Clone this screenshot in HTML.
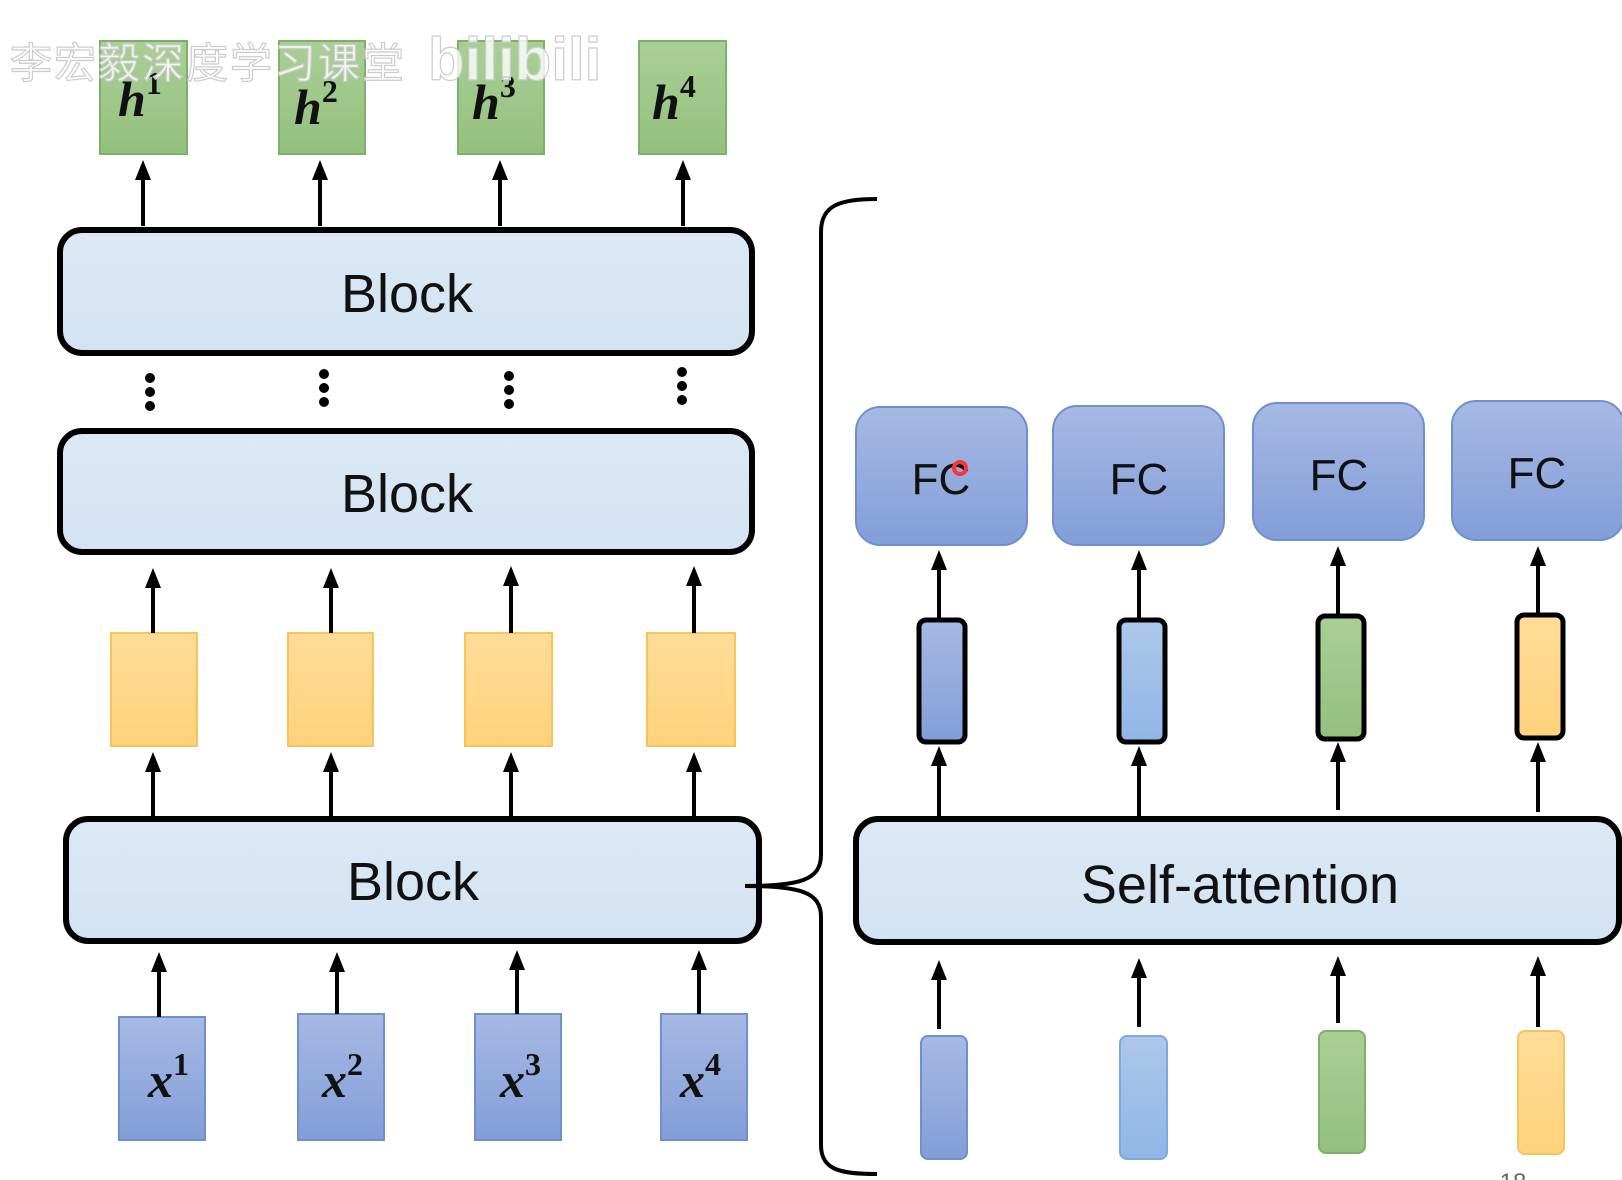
<!DOCTYPE html>
<html><head><meta charset="utf-8"><style>
html,body{margin:0;padding:0;background:#fff;}
svg{display:block;}
</style></head><body>
<svg width="1622" height="1180" viewBox="0 0 1622 1180" xmlns="http://www.w3.org/2000/svg">
<defs>
<linearGradient id="blk" x1="0" y1="0" x2="0" y2="1"><stop offset="0" stop-color="#dce8f5"/><stop offset="1" stop-color="#d3e3f4"/></linearGradient>
<linearGradient id="grn" x1="0" y1="0" x2="0" y2="1"><stop offset="0" stop-color="#aacf96"/><stop offset="1" stop-color="#94c07e"/></linearGradient>
<linearGradient id="yel" x1="0" y1="0" x2="0" y2="1"><stop offset="0" stop-color="#ffdc98"/><stop offset="1" stop-color="#ffd27c"/></linearGradient>
<linearGradient id="blu" x1="0" y1="0" x2="0" y2="1"><stop offset="0" stop-color="#a7b9e4"/><stop offset="1" stop-color="#829ed8"/></linearGradient>
<linearGradient id="lbl" x1="0" y1="0" x2="0" y2="1"><stop offset="0" stop-color="#adc7ea"/><stop offset="1" stop-color="#90b6e6"/></linearGradient>
</defs>

<g font-family="'Liberation Serif',serif" font-weight="bold" font-style="italic" font-size="50" fill="#111">
<rect x="100" y="41" width="87" height="113" fill="url(#grn)" stroke="#7fb06a" stroke-width="2"/>
<rect x="279" y="41" width="86" height="113" fill="url(#grn)" stroke="#7fb06a" stroke-width="2"/>
<rect x="458" y="41" width="86" height="113" fill="url(#grn)" stroke="#7fb06a" stroke-width="2"/>
<rect x="639" y="41" width="87" height="113" fill="url(#grn)" stroke="#7fb06a" stroke-width="2"/>
<text x="118" y="116">h<tspan font-size="32" dy="-22" font-style="normal">1</tspan></text>
<text x="294" y="124">h<tspan font-size="32" dy="-22" font-style="normal">2</tspan></text>
<text x="472" y="119">h<tspan font-size="32" dy="-22" font-style="normal">3</tspan></text>
<text x="652" y="119">h<tspan font-size="32" dy="-22" font-style="normal">4</tspan></text>
</g>

<g fill="url(#yel)" stroke="#f7c45a" stroke-width="2">
<rect x="111" y="633" width="86" height="113"/>
<rect x="288" y="633" width="85" height="113"/>
<rect x="465" y="633" width="87" height="113"/>
<rect x="647" y="633" width="88" height="113"/>
</g>

<g fill="url(#blu)" stroke="#6f8fcf" stroke-width="2">
<rect x="119" y="1017" width="86" height="123"/>
<rect x="298" y="1014" width="86" height="126"/>
<rect x="475" y="1014" width="86" height="126"/>
<rect x="661" y="1014" width="86" height="126"/>
</g>
<g font-family="'Liberation Serif',serif" font-weight="bold" font-style="italic" font-size="50" fill="#111">
<text x="148" y="1097">x<tspan font-size="32" dy="-22" font-style="normal">1</tspan></text>
<text x="322" y="1097">x<tspan font-size="32" dy="-22" font-style="normal">2</tspan></text>
<text x="500" y="1097">x<tspan font-size="32" dy="-22" font-style="normal">3</tspan></text>
<text x="680" y="1097">x<tspan font-size="32" dy="-22" font-style="normal">4</tspan></text>
</g>

<g fill="url(#blk)" stroke="#000" stroke-width="6">
<rect x="60" y="230" width="692" height="123" rx="22"/>
<rect x="60" y="431" width="692" height="121" rx="22"/>
<rect x="66" y="819" width="693" height="122" rx="22"/>
<rect x="856" y="819" width="763" height="123" rx="22"/>
</g>
<g font-family="'Liberation Sans','DejaVu Sans',sans-serif" font-size="54" fill="#111" text-anchor="middle">
<text x="407" y="312">Block</text>
<text x="407" y="512">Block</text>
<text x="413" y="900">Block</text>
<text x="1240" y="903">Self-attention</text>
</g>

<g fill="#000">
<circle cx="150" cy="378" r="5"/><circle cx="150" cy="392" r="5"/><circle cx="150" cy="406" r="5"/>
<circle cx="324" cy="374" r="5"/><circle cx="324" cy="388" r="5"/><circle cx="324" cy="402" r="5"/>
<circle cx="509" cy="376" r="5"/><circle cx="509" cy="390" r="5"/><circle cx="509" cy="404" r="5"/>
<circle cx="682" cy="372" r="5"/><circle cx="682" cy="386" r="5"/><circle cx="682" cy="400" r="5"/>
</g>

<g stroke="#000" stroke-width="4">
<line x1="143" y1="226" x2="143" y2="176"/>
<line x1="320" y1="226" x2="320" y2="176"/>
<line x1="500" y1="226" x2="500" y2="176"/>
<line x1="683" y1="226" x2="683" y2="176"/>
<line x1="153" y1="633" x2="153" y2="584"/>
<line x1="331" y1="633" x2="331" y2="584"/>
<line x1="511" y1="633" x2="511" y2="582"/>
<line x1="694" y1="633" x2="694" y2="582"/>
<line x1="153" y1="816" x2="153" y2="768"/>
<line x1="331" y1="816" x2="331" y2="768"/>
<line x1="511" y1="816" x2="511" y2="768"/>
<line x1="694" y1="816" x2="694" y2="768"/>
<line x1="159" y1="1017" x2="159" y2="968"/>
<line x1="337" y1="1014" x2="337" y2="968"/>
<line x1="517" y1="1014" x2="517" y2="966"/>
<line x1="699" y1="1014" x2="699" y2="966"/>
<line x1="939" y1="1029" x2="939" y2="976"/>
<line x1="1139" y1="1027" x2="1139" y2="974"/>
<line x1="1338" y1="1023" x2="1338" y2="972"/>
<line x1="1538" y1="1027" x2="1538" y2="972"/>
<line x1="939" y1="816" x2="939" y2="762"/>
<line x1="1139" y1="816" x2="1139" y2="762"/>
<line x1="1338" y1="810" x2="1338" y2="758"/>
<line x1="1538" y1="812" x2="1538" y2="758"/>
<line x1="939" y1="619" x2="939" y2="566"/>
<line x1="1139" y1="619" x2="1139" y2="566"/>
<line x1="1338" y1="615" x2="1338" y2="562"/>
<line x1="1538" y1="615" x2="1538" y2="562"/>
</g>
<g fill="#000">
<path d="M135,180 L143,160 L151,180Z"/>
<path d="M312,180 L320,160 L328,180Z"/>
<path d="M492,180 L500,160 L508,180Z"/>
<path d="M675,180 L683,160 L691,180Z"/>
<path d="M145,588 L153,568 L161,588Z"/>
<path d="M323,588 L331,568 L339,588Z"/>
<path d="M503,586 L511,566 L519,586Z"/>
<path d="M686,586 L694,566 L702,586Z"/>
<path d="M145,772 L153,752 L161,772Z"/>
<path d="M323,772 L331,752 L339,772Z"/>
<path d="M503,772 L511,752 L519,772Z"/>
<path d="M686,772 L694,752 L702,772Z"/>
<path d="M151,972 L159,952 L167,972Z"/>
<path d="M329,972 L337,952 L345,972Z"/>
<path d="M509,970 L517,950 L525,970Z"/>
<path d="M691,970 L699,950 L707,970Z"/>
<path d="M931,980 L939,960 L947,980Z"/>
<path d="M1131,978 L1139,958 L1147,978Z"/>
<path d="M1330,976 L1338,956 L1346,976Z"/>
<path d="M1530,976 L1538,956 L1546,976Z"/>
<path d="M931,766 L939,746 L947,766Z"/>
<path d="M1131,766 L1139,746 L1147,766Z"/>
<path d="M1330,762 L1338,742 L1346,762Z"/>
<path d="M1530,762 L1538,742 L1546,762Z"/>
<path d="M931,570 L939,550 L947,570Z"/>
<path d="M1131,570 L1139,550 L1147,570Z"/>
<path d="M1330,566 L1338,546 L1346,566Z"/>
<path d="M1530,566 L1538,546 L1546,566Z"/>
</g>

<g fill="url(#blu)" stroke="#6f8fcf" stroke-width="2">
<rect x="856" y="407" width="171" height="138" rx="24"/>
<rect x="1053" y="406" width="171" height="139" rx="24"/>
<rect x="1253" y="403" width="171" height="137" rx="24"/>
<rect x="1452" y="401" width="172" height="139" rx="24"/>
</g>
<g font-family="'Liberation Sans','DejaVu Sans',sans-serif" font-size="44" fill="#111" text-anchor="middle">
<text x="941" y="494">FC</text>
<text x="1139" y="494">FC</text>
<text x="1339" y="490">FC</text>
<text x="1537" y="488">FC</text>
</g>
<circle cx="960" cy="468" r="6" fill="none" stroke="#f33" stroke-width="4"/>

<g stroke="#000" stroke-width="5">
<rect x="919" y="620" width="46" height="122" rx="7" fill="url(#blu)"/>
<rect x="1119" y="620" width="46" height="122" rx="7" fill="url(#lbl)"/>
<rect x="1318" y="616" width="46" height="123" rx="7" fill="url(#grn)"/>
<rect x="1517" y="615" width="46" height="123" rx="7" fill="url(#yel)"/>
</g>
<g stroke-width="2">
<rect x="921" y="1036" width="46" height="123" rx="7" fill="url(#blu)" stroke="#6f8fcf"/>
<rect x="1120" y="1036" width="47" height="123" rx="7" fill="url(#lbl)" stroke="#7fa7dd"/>
<rect x="1319" y="1031" width="46" height="122" rx="7" fill="url(#grn)" stroke="#7fb06a"/>
<rect x="1518" y="1031" width="46" height="123" rx="7" fill="url(#yel)" stroke="#f7c45a"/>
</g>

<path d="M877,199 C840,199 821,205 821,232 L821,855 C821,880 800,886 745,886 M745,886 C800,886 821,892 821,917 L821,1145 C821,1170 840,1174 877,1174" fill="none" stroke="#000" stroke-width="4"/>

<text x="1513" y="1190" font-family="'Liberation Sans',sans-serif" font-size="24" fill="#666" text-anchor="middle">18</text>

<text x="10" y="78" font-family="'Liberation Sans','Noto Sans CJK SC',sans-serif" font-size="42" fill="#fff" fill-opacity="0.85" stroke="#ccc" stroke-width="1.2" letter-spacing="2">李宏毅深度学习课堂</text>
<text x="428" y="80" font-family="'Liberation Sans',sans-serif" font-size="60" font-weight="bold" fill="#fff" fill-opacity="0.8" stroke="#ccc" stroke-width="1.2">bilibili</text>
</svg>
</body></html>
